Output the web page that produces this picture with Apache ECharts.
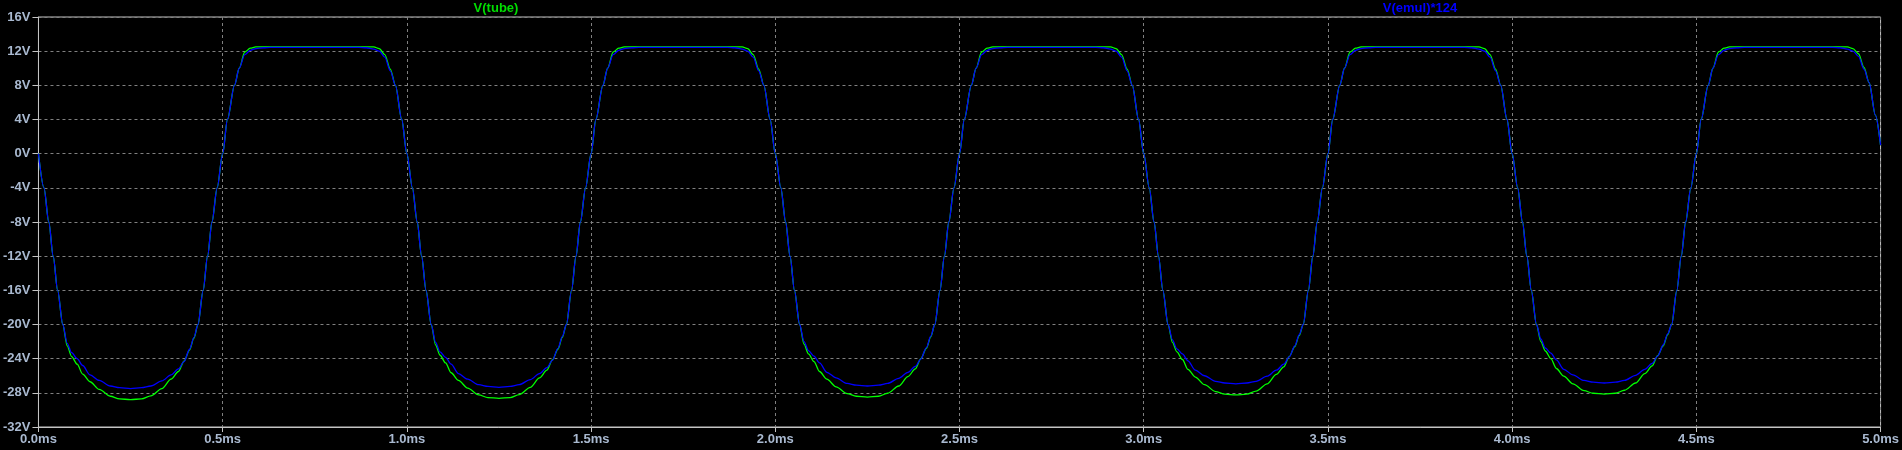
<!DOCTYPE html>
<html>
<head>
<meta charset="utf-8">
<script src="https://cdn.jsdelivr.net/npm/echarts@6/dist/echarts.min.js"></script>
<style>
html,body{margin:0;padding:0;background:#000;}
#chart{width:1902px;height:450px;}
</style>
</head>
<body>
<div id="chart"></div>
<script>
// Sample phase positions within each 1 ms period (ms)
const phaseMs = [0, .015, .028, .040, .052, .066, .078, .090, .105, .120, .140, .165, .195, .220, .250, .280, .305, .335, .360, .380, .395, .410, .422, .433, .447, .459, .471, .485, .500, .513, .532, .545, .560, .575, .590, .610, .630, .750, .870, .890, .910, .925, .940, .955, .969, .986];
const periodStartMs = [0, 1, 2, 3, 4];
const endTimeMs = 5.0;

// V(tube) per period (V)
const tubeP1 = [0, -4, -8, -12, -16, -20, -22.5, -23.75, -24.65, -25.8, -26.7, -27.6, -28.4, -28.7, -28.8, -28.7, -28.35, -27.5, -26.4, -25.5, -24.3, -23.0, -21.6, -20, -16, -12, -8, -4, 0, 4, 8, 10, 11.9, 12.35, 12.5, 12.5, 12.5, 12.5, 12.5, 12.5, 12.5, 12.3, 11.6, 9.9, 8, 4];
const tubeP2 = [0, -4, -8, -12, -16, -20, -22.4, -23.6, -24.5, -25.65, -26.55, -27.45, -28.25, -28.55, -28.65, -28.55, -28.2, -27.35, -26.25, -25.35, -24.15, -22.9, -21.5, -20, -16, -12, -8, -4, 0, 4, 8, 10, 11.9, 12.35, 12.5, 12.5, 12.5, 12.5, 12.5, 12.5, 12.5, 12.3, 11.6, 9.9, 8, 4];
const tubeP3 = [0, -4, -8, -12, -16, -20, -22.3, -23.45, -24.35, -25.5, -26.4, -27.3, -28.1, -28.4, -28.5, -28.4, -28.05, -27.2, -26.1, -25.2, -24.0, -22.8, -21.45, -20, -16, -12, -8, -4, 0, 4, 8, 10, 11.9, 12.35, 12.5, 12.5, 12.5, 12.5, 12.5, 12.5, 12.5, 12.3, 11.6, 9.9, 8, 4];
const tubeP4 = [0, -4, -8, -12, -16, -20, -22.1, -23.2, -24.1, -25.25, -26.15, -27.05, -27.85, -28.15, -28.25, -28.15, -27.8, -26.95, -25.85, -24.95, -23.75, -22.6, -21.3, -20, -16, -12, -8, -4, 0, 4, 8, 10, 11.9, 12.35, 12.5, 12.5, 12.5, 12.5, 12.5, 12.5, 12.5, 12.3, 11.6, 9.9, 8, 4];
const tubeP5 = [0, -4, -8, -12, -16, -20, -22.0, -23.1, -24.0, -25.15, -26.05, -26.95, -27.75, -28.05, -28.15, -28.05, -27.7, -26.85, -25.75, -24.85, -23.65, -22.5, -21.2, -20, -16, -12, -8, -4, 0, 4, 8, 10, 11.9, 12.35, 12.5, 12.5, 12.5, 12.5, 12.5, 12.5, 12.5, 12.3, 11.7, 10.1, 8.3, 4.5];
const tubeEnd = 1.0;

// V(emul)*124 per period (V)
const emulP1 = [0, -4, -8, -12, -16, -20, -22.2, -23.3, -24.0, -24.8, -25.9, -26.55, -27.2, -27.4, -27.5, -27.4, -27.2, -26.6, -25.9, -25.2, -24.35, -22.9, -21.5, -20, -16, -12, -8, -4, 0, 4, 8, 10, 11.6, 12.1, 12.3, 12.4, 12.45, 12.45, 12.45, 12.4, 12.25, 12.0, 11.3, 9.7, 8, 4];
const emulP2 = [0, -4, -8, -12, -16, -20, -22.1, -23.2, -23.85, -24.65, -25.75, -26.4, -27.05, -27.25, -27.35, -27.25, -27.05, -26.45, -25.75, -25.05, -24.2, -22.8, -21.4, -20, -16, -12, -8, -4, 0, 4, 8, 10, 11.6, 12.1, 12.3, 12.4, 12.45, 12.45, 12.45, 12.4, 12.25, 12.0, 11.3, 9.7, 8, 4];
const emulP3 = [0, -4, -8, -12, -16, -20, -22.0, -23.05, -23.7, -24.5, -25.6, -26.25, -26.9, -27.1, -27.2, -27.1, -26.9, -26.3, -25.6, -24.9, -24.05, -22.7, -21.35, -20, -16, -12, -8, -4, 0, 4, 8, 10, 11.6, 12.1, 12.3, 12.4, 12.45, 12.45, 12.45, 12.4, 12.25, 12.0, 11.3, 9.7, 8, 4];
const emulP4 = [0, -4, -8, -12, -16, -20, -21.8, -22.85, -23.45, -24.25, -25.35, -26.0, -26.65, -26.85, -26.95, -26.85, -26.65, -26.05, -25.35, -24.65, -23.8, -22.5, -21.2, -20, -16, -12, -8, -4, 0, 4, 8, 10, 11.6, 12.1, 12.3, 12.4, 12.45, 12.45, 12.45, 12.4, 12.25, 12.0, 11.3, 9.7, 8, 4];
const emulP5 = [0, -4, -8, -12, -16, -20, -21.7, -22.75, -23.35, -24.15, -25.25, -25.9, -26.55, -26.75, -26.85, -26.75, -26.55, -25.95, -25.25, -24.55, -23.7, -22.4, -21.1, -20, -16, -12, -8, -4, 0, 4, 8, 10, 11.6, 12.1, 12.3, 12.4, 12.45, 12.45, 12.45, 12.4, 12.25, 12.0, 11.4, 9.9, 8.3, 4.5];
const emulEnd = 1.0;

const seriesNames = ['V(tube)', 'V(emul)*124'];
const seriesColors = ['#00ff00', '#0000ff'];

function build(periods, endVal) {
  const out = [];
  periods.forEach((vals, p) => {
    vals.forEach((v, i) => out.push([+(periodStartMs[p] + phaseMs[i]).toFixed(4), v]));
  });
  out.push([endTimeMs, endVal]);
  return out;
}
const tubeData = build([tubeP1, tubeP2, tubeP3, tubeP4, tubeP5], tubeEnd);
const emulData = build([emulP1, emulP2, emulP3, emulP4, emulP5], emulEnd);

const labelColor = '#a9b9d0';
const axisColor = '#c4c4c4';
const gridColor = '#808080';
const font = '"Liberation Sans", Arial, sans-serif';

const chart = echarts.init(document.getElementById('chart'), null, {renderer: 'canvas'});
chart.setOption({
  backgroundColor: '#000000',
  animation: false,
  grid: {left: 34, right: 19, top: 17, bottom: 23, show: true, borderColor: axisColor, borderWidth: 1, backgroundColor: '#000'},
  xAxis: {
    type: 'value', min: 0, max: 5, interval: 0.5,
    axisLine: {show: true, onZero: false, lineStyle: {color: axisColor, width: 1}},
    axisTick: {show: true, inside: false, length: 5, lineStyle: {color: axisColor}},
    axisLabel: {color: labelColor, fontFamily: font, fontWeight: 'bold', fontSize: 13, margin: 6,
      formatter: v => v.toFixed(1) + 'ms'},
    splitLine: {show: true, lineStyle: {color: gridColor, type: [3, 3], width: 1}}
  },
  yAxis: {
    type: 'value', min: -32, max: 16, interval: 4,
    axisLine: {show: true, onZero: false, lineStyle: {color: axisColor, width: 1}},
    axisTick: {show: true, inside: false, length: 6, lineStyle: {color: axisColor}},
    axisLabel: {color: labelColor, fontFamily: font, fontWeight: 'bold', fontSize: 13, margin: 8,
      formatter: v => v + 'V'},
    splitLine: {show: true, lineStyle: {color: gridColor, type: [3, 3], width: 1}}
  },
  graphic: [
    {type: 'text', x: 496, y: 8, style: {text: seriesNames[0], fill: '#00dd00', font: 'bold 13px ' + font, textAlign: 'center', textVerticalAlign: 'middle'}},
    {type: 'text', x: 1420, y: 8, style: {text: seriesNames[1], fill: '#0000ff', font: 'bold 13px ' + font, textAlign: 'center', textVerticalAlign: 'middle'}}
  ],
  series: [
    {name: seriesNames[0], type: 'line', data: tubeData, showSymbol: false, smooth: 0.3, smoothMonotone: 'x',
      lineStyle: {color: seriesColors[0], width: 1.3}, z: 2},
    {name: seriesNames[1], type: 'line', data: emulData, showSymbol: false, smooth: 0.3, smoothMonotone: 'x',
      lineStyle: {color: seriesColors[1], width: 1.3}, z: 3}
  ]
});
</script>
</body>
</html>
